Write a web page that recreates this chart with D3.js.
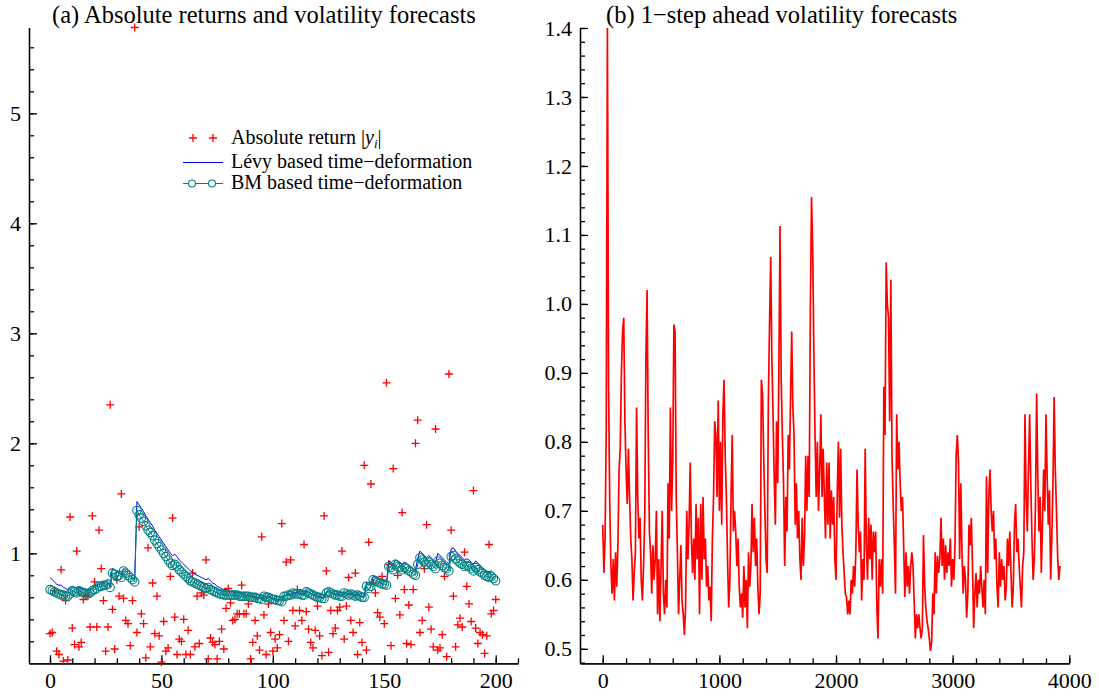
<!DOCTYPE html>
<html>
<head>
<meta charset="utf-8">
<title>Absolute returns and volatility forecasts</title>
<script src="https://cdn.jsdelivr.net/npm/d3@7"></script>
<style>
  * { margin: 0; padding: 0; }
  body { background: #fff; }
  svg text { font-family: "Liberation Serif", "Times New Roman", serif; fill: #000; }
  .domain, .tick line { stroke: #000; stroke-width: 1.3px; }
  .title { font-size: 24.5px; }
  .legend text { font-size: 20px; }
</style>
</head>
<body>
<svg id="chart" width="1099" height="696"></svg>
<script>
// ---- panel (a): absolute returns |y_i|, i = 0..200
var absReturns = [
  0.27, 0.28, 0.66, 0.11, 0.08, 0.85, 0.02, 0.57, 0.03, 1.33,
  0.32, 0.17, 1.02, 0.15, 0.19, 0.58, 0.62, 0.61, 0.33, 1.34,
  0.74, 0.33, 1.21, 0.86, 0.57, 0.11, 0.33, 2.35, 0.49, 0.13,
  0.76, 0.61, 1.54, 0.59, 0.39, 0.36, 0.16, 0.57, 5.78, 0.28,
  1.24, 0.45, 0.36, 0.05, 1.05, 0.15, 0.73, 0.27, 0.61, 0.25,
  0.01, 0.38, 0.11, 0.14, 0.79, 1.32, 0.42, 0.08, 0.22, 0.20,
  0.40, 0.08, 0.30, 0.08, 0.82, 0.15, 0.61, 0.18, 0.64, 0.62,
  0.94, 0.04, 0.23, 0.19, 0.17, 0.04, 0.20, 0.31, 0.13, 0.50,
  0.68, 0.55, 0.39, 0.40, 0.45, 0.45, 0.71, 0.45, 0.45, 0.54,
  0.04, 0.19, 0.39, 0.25, 0.12, 1.15, 0.44, 0.08, 0.54, 0.28,
  0.11, 0.22, 0.14, 0.26, 1.27, 0.39, 0.92, 0.20, 0.94, 0.48,
  0.34, 0.67, 0.48, 0.39, 1.08, 0.47, 0.31, 0.19, 0.14, 0.30,
  0.52, 0.25, 0.07, 1.34, 0.84, 0.10, 0.48, 0.27, 0.32, 0.48,
  0.51, 1.02, 0.22, 0.52, 0.78, 0.39, 0.28, 0.82, 0.08, 0.37,
  0.19, 1.80, 0.12, 1.10, 1.63, 0.73, 0.64, 0.46, 0.42, 0.79,
  0.36, 2.55, 0.90, 0.16, 1.77, 0.59, 0.80, 0.44, 1.37, 0.67,
  0.18, 0.53, 0.17, 0.67, 2.00, 2.21, 0.28, 0.39, 0.86, 1.26,
  0.51, 0.31, 0.15, 2.13, 0.12, 0.14, 0.26, 0.79, 0.06, 2.63,
  1.21, 0.61, 0.15, 0.35, 0.41, 0.33, 1.01, 0.70, 0.54, 0.38,
  1.57, 0.32, 0.18, 0.28, 0.26, 0.09, 0.25, 1.08, 0.45, 0.48,
  0.58
];

// Lévy based time-deformation forecast
var levyForecast = [
  0.78, 0.76, 0.74, 0.72, 0.71, 0.71, 0.69, 0.68, 0.67, 0.68,
  0.70, 0.69, 0.68, 0.69, 0.68, 0.67, 0.67, 0.66, 0.67, 0.68,
  0.69, 0.70, 0.72, 0.72, 0.73, 0.73, 0.73, 0.71, 0.86, 0.85,
  0.83, 0.83, 0.81, 0.86, 0.84, 0.82, 0.80, 0.78, 0.76, 1.47,
  1.44, 1.41, 1.38, 1.34, 1.31, 1.28, 1.25, 1.21, 1.18, 1.15,
  1.12, 1.09, 1.06, 1.03, 1.00, 0.98, 0.99, 0.97, 0.94, 0.92,
  0.90, 0.88, 0.86, 0.84, 0.83, 0.81, 0.80, 0.79, 0.78, 0.77,
  0.76, 0.77, 0.75, 0.73, 0.72, 0.70, 0.69, 0.68, 0.67, 0.67,
  0.66, 0.65, 0.65, 0.64, 0.64, 0.63, 0.63, 0.63, 0.62, 0.62,
  0.61, 0.61, 0.61, 0.60, 0.60, 0.59, 0.62, 0.61, 0.61, 0.60,
  0.59, 0.59, 0.58, 0.58, 0.57, 0.62, 0.62, 0.63, 0.63, 0.65,
  0.64, 0.64, 0.64, 0.63, 0.63, 0.66, 0.65, 0.64, 0.63, 0.62,
  0.61, 0.61, 0.60, 0.60, 0.65, 0.66, 0.65, 0.64, 0.63, 0.63,
  0.62, 0.62, 0.65, 0.64, 0.63, 0.64, 0.63, 0.62, 0.63, 0.62,
  0.61, 0.61, 0.73, 0.71, 0.72, 0.79, 0.78, 0.77, 0.76, 0.75,
  0.75, 0.74, 0.93, 0.92, 0.90, 0.94, 0.93, 0.92, 0.90, 0.92,
  0.91, 0.89, 0.88, 0.86, 0.85, 0.95, 1.02, 1.00, 0.98, 0.96,
  0.98, 0.96, 0.94, 0.92, 1.00, 0.98, 0.96, 0.94, 0.92, 0.90,
  1.04, 1.05, 1.02, 1.00, 0.98, 0.96, 0.94, 0.95, 0.94, 0.92,
  0.90, 0.93, 0.91, 0.89, 0.87, 0.85, 0.84, 0.83, 0.84, 0.82,
  0.80
];

// BM based time-deformation forecast
var bmForecast = [
  0.67, 0.66, 0.65, 0.64, 0.63, 0.62, 0.62, 0.61, 0.61, 0.63,
  0.66, 0.65, 0.64, 0.66, 0.65, 0.64, 0.64, 0.63, 0.64, 0.66,
  0.67, 0.68, 0.70, 0.70, 0.71, 0.71, 0.72, 0.69, 0.82, 0.81,
  0.79, 0.80, 0.78, 0.84, 0.82, 0.80, 0.78, 0.76, 0.74, 1.39,
  1.35, 1.32, 1.29, 1.25, 1.21, 1.19, 1.16, 1.12, 1.09, 1.06,
  1.03, 1.00, 0.97, 0.94, 0.91, 0.89, 0.90, 0.88, 0.85, 0.83,
  0.81, 0.79, 0.77, 0.75, 0.74, 0.73, 0.72, 0.71, 0.70, 0.69,
  0.68, 0.69, 0.67, 0.66, 0.65, 0.64, 0.63, 0.63, 0.62, 0.62,
  0.62, 0.62, 0.62, 0.62, 0.62, 0.61, 0.61, 0.61, 0.61, 0.61,
  0.60, 0.60, 0.60, 0.59, 0.59, 0.58, 0.61, 0.60, 0.60, 0.59,
  0.58, 0.58, 0.57, 0.57, 0.56, 0.61, 0.61, 0.62, 0.62, 0.64,
  0.63, 0.63, 0.63, 0.62, 0.62, 0.65, 0.64, 0.63, 0.62, 0.61,
  0.60, 0.60, 0.59, 0.59, 0.64, 0.65, 0.64, 0.63, 0.62, 0.62,
  0.61, 0.61, 0.64, 0.63, 0.62, 0.63, 0.62, 0.61, 0.62, 0.61,
  0.60, 0.60, 0.70, 0.68, 0.70, 0.76, 0.75, 0.74, 0.73, 0.72,
  0.72, 0.71, 0.88, 0.87, 0.85, 0.90, 0.88, 0.87, 0.85, 0.87,
  0.86, 0.84, 0.83, 0.81, 0.80, 0.90, 0.96, 0.94, 0.92, 0.90,
  0.92, 0.90, 0.88, 0.86, 0.93, 0.91, 0.89, 0.87, 0.86, 0.84,
  0.97, 0.98, 0.95, 0.93, 0.91, 0.90, 0.88, 0.89, 0.88, 0.86,
  0.84, 0.87, 0.85, 0.83, 0.82, 0.80, 0.79, 0.78, 0.79, 0.77,
  0.75
];

// ---- panel (b): 1-step ahead volatility forecasts, one value every 10 steps (t = 0..3920)
var volStep = 10;
var volForecast = [
  0.68, 0.61, 0.66, 0.82, 1.40, 0.88, 0.71, 0.62, 0.58, 0.63,
  0.57, 0.64, 0.59, 0.65, 0.76, 0.79, 0.90, 0.96, 0.98, 0.83,
  0.76, 0.71, 0.79, 0.72, 0.66, 0.63, 0.57, 0.61, 0.64, 0.85,
  0.72, 0.66, 0.69, 0.60, 0.57, 0.62, 0.69, 0.92, 1.02, 0.81,
  0.67, 0.64, 0.58, 0.65, 0.60, 0.63, 0.70, 0.55, 0.63, 0.54,
  0.62, 0.70, 0.58, 0.55, 0.60, 0.56, 0.74, 0.66, 0.85, 0.70,
  0.77, 0.97, 0.96, 0.72, 0.64, 0.55, 0.60, 0.65, 0.57, 0.55,
  0.52, 0.56, 0.70, 0.63, 0.68, 0.77, 0.66, 0.61, 0.66, 0.60,
  0.71, 0.63, 0.69, 0.55, 0.71, 0.60, 0.72, 0.63, 0.66, 0.59,
  0.62, 0.57, 0.59, 0.54, 0.66, 0.72, 0.83, 0.81, 0.72, 0.86,
  0.70, 0.80, 0.68, 0.84, 0.89, 0.78, 0.72, 0.63, 0.56, 0.60,
  0.72, 0.81, 0.67, 0.70, 0.67, 0.62, 0.66, 0.59, 0.56, 0.58,
  0.545, 0.62, 0.56, 0.60, 0.53, 0.64, 0.59, 0.62, 0.71, 0.64,
  0.69, 0.62, 0.66, 0.59, 0.55, 0.58, 0.89, 0.87, 0.78, 0.70,
  0.63, 0.61, 0.86, 0.97, 1.068, 0.92, 0.84, 0.75, 0.68, 0.83,
  0.74, 0.90, 1.113, 0.89, 0.81, 0.74, 0.62, 0.72, 0.67, 0.81,
  0.76, 0.86, 0.96, 0.85, 0.81, 0.68, 0.74, 0.66, 0.70, 0.63,
  0.60, 0.69, 0.62, 0.66, 0.78, 0.70, 0.78, 0.72, 0.99, 1.155,
  1.08, 0.93, 0.81, 0.72, 0.80, 0.70, 0.76, 0.84, 0.72, 0.79,
  0.72, 0.66, 0.77, 0.68, 0.77, 0.66, 0.73, 0.68, 0.72, 0.63,
  0.60, 0.72, 0.80, 0.69, 0.79, 0.68, 0.64, 0.61, 0.58, 0.575,
  0.55, 0.57, 0.55, 0.60, 0.58, 0.62, 0.59, 0.64, 0.76, 0.68,
  0.64, 0.67, 0.57, 0.63, 0.60, 0.79, 0.65, 0.60, 0.69, 0.63,
  0.68, 0.60, 0.67, 0.64, 0.67, 0.56, 0.515, 0.63, 0.59, 0.63,
  0.58, 0.88, 0.81, 1.06, 1.00, 0.98, 0.83, 1.035, 0.78, 0.71,
  0.65, 0.58, 0.84, 0.76, 0.80, 0.74, 0.70, 0.72, 0.65, 0.575,
  0.64, 0.59, 0.62, 0.58, 0.62, 0.64, 0.62, 0.57, 0.515, 0.55,
  0.53, 0.55, 0.53, 0.515, 0.53, 0.665, 0.59, 0.56, 0.54, 0.53,
  0.515, 0.497, 0.51, 0.58, 0.55, 0.64, 0.58, 0.635, 0.61, 0.63,
  0.69, 0.62, 0.66, 0.60, 0.65, 0.61, 0.64, 0.62, 0.66, 0.59,
  0.63, 0.60, 0.65, 0.78, 0.81, 0.77, 0.63, 0.74, 0.64, 0.58,
  0.62, 0.60, 0.545, 0.58, 0.68, 0.65, 0.69, 0.62, 0.53, 0.58,
  0.61, 0.56, 0.60, 0.58, 0.62, 0.59, 0.56, 0.60, 0.55, 0.75,
  0.61, 0.72, 0.76, 0.70, 0.67, 0.70, 0.63, 0.66, 0.59, 0.56,
  0.64, 0.59, 0.63, 0.60, 0.62, 0.57, 0.59, 0.66, 0.62, 0.67,
  0.61, 0.56, 0.59, 0.68, 0.71, 0.64, 0.66, 0.62, 0.59, 0.56,
  0.62, 0.64, 0.84, 0.72, 0.67, 0.76, 0.84, 0.74, 0.66, 0.60,
  0.63, 0.71, 0.87, 0.75, 0.67, 0.72, 0.61, 0.68, 0.76, 0.70,
  0.84, 0.75, 0.68, 0.73, 0.60, 0.66, 0.74, 0.865, 0.76, 0.70,
  0.635, 0.60, 0.62
];

// tick labels
var aXTicks = [0, 50, 100, 150, 200];
var aYTicks = [1, 2, 3, 4, 5];
var bXTicks = [0, 1000, 2000, 3000, 4000];
var bYTicks = [0.5, 0.6, 0.7, 0.8, 0.9, 1.0, 1.1, 1.2, 1.3, 1.4];

var legendLabels = ["Absolute return ", "L\u00e9vy based time\u2212deformation", "BM based time\u2212deformation"];

var RED = "#ff0000", BLUE = "#0000ff", TEAL = "#008080";
var SERIF = "'Liberation Serif', 'Times New Roman', serif";

var svg = d3.select("#chart");

// scales
var xA = d3.scaleLinear().domain([-9.42, 210]).range([29, 518]);
var yA = d3.scaleLinear().domain([0, 5.78]).range([663.3, 27.5]);
var xB = d3.scaleLinear().domain([-195, 4000]).range([580, 1069.3]);
var yB = d3.scaleLinear().domain([0.479, 1.4]).range([663.3, 28]);

// inward ticks, minor ones shorter
function drawAxes(x, y, xMajor, xMinor, yMajor, yMinor, yFmt) {
    var bottom = y.range()[0], left = x.range()[0];

    svg.append("g")
        .attr("transform", "translate(0," + bottom + ")")
        .call(d3.axisBottom(x).tickValues(xMinor).tickSize(-5).tickSizeOuter(0).tickFormat(""));
    svg.append("g")
        .attr("transform", "translate(0," + bottom + ")")
        .call(d3.axisBottom(x).tickValues(xMajor).tickSize(-8).tickSizeOuter(0).tickPadding(9).tickFormat(d3.format("d")))
        .attr("font-family", SERIF).attr("font-size", 22);

    svg.append("g")
        .attr("transform", "translate(" + left + ",0)")
        .call(d3.axisLeft(y).tickValues(yMinor).tickSize(-5).tickSizeOuter(0).tickFormat(""));
    svg.append("g")
        .attr("transform", "translate(" + left + ",0)")
        .call(d3.axisLeft(y).tickValues(yMajor).tickSize(-8).tickSizeOuter(0).tickPadding(8).tickFormat(yFmt))
        .attr("font-family", SERIF).attr("font-size", 22);
}

drawAxes(xA, yA, aXTicks, d3.range(0, 211, 10), aYTicks, d3.range(0.2, 5.7, 0.2), d3.format("d"));
drawAxes(xB, yB, bXTicks, d3.range(0, 4001, 200), bYTicks, d3.range(0.48, 1.401, 0.02), d3.format(".1f"));

// titles
svg.append("text").attr("class", "title")
    .attr("x", 52).attr("y", 23)
    .text("(a) Absolute returns and volatility forecasts");
svg.append("text").attr("class", "title")
    .attr("x", 606).attr("y", 23)
    .text("(b) 1\u2212step ahead volatility forecasts");

// panel (a) marks
var plusPath = "M-4,0H4M0,-4V4";

svg.append("g").selectAll("path")
    .data(absReturns)
    .enter().append("path")
    .attr("d", plusPath)
    .attr("transform", function(d, i) { return "translate(" + xA(i) + "," + yA(d) + ")"; })
    .attr("fill", "none")
    .attr("stroke", RED)
    .attr("stroke-width", 1.3);

var lineA = d3.line()
    .x(function(d, i) { return xA(i); })
    .y(function(d) { return yA(d); });

svg.append("path")
    .datum(levyForecast)
    .attr("d", lineA)
    .attr("fill", "none")
    .attr("stroke", BLUE)
    .attr("stroke-width", 1);

svg.append("path")
    .datum(bmForecast)
    .attr("d", lineA)
    .attr("fill", "none")
    .attr("stroke", TEAL)
    .attr("stroke-width", 1);

svg.append("g").selectAll("circle")
    .data(bmForecast)
    .enter().append("circle")
    .attr("cx", function(d, i) { return xA(i); })
    .attr("cy", function(d) { return yA(d); })
    .attr("r", 4.2)
    .attr("fill", "none")
    .attr("stroke", TEAL)
    .attr("stroke-width", 1.1);

// legend
var legend = svg.append("g").attr("class", "legend");

legend.selectAll("path.mk")
    .data([193, 213])
    .enter().append("path")
    .attr("class", "mk")
    .attr("d", plusPath)
    .attr("transform", function(d) { return "translate(" + d + ",138)"; })
    .attr("fill", "none")
    .attr("stroke", RED)
    .attr("stroke-width", 1.3);

var t0 = legend.append("text").attr("x", 231).attr("y", 144);
t0.append("tspan").text(legendLabels[0] + "|");
t0.append("tspan").attr("font-style", "italic").text("y");
t0.append("tspan").attr("font-style", "italic").attr("font-size", "13px").attr("dy", 4).text("i");
t0.append("tspan").attr("dy", -4).text("|");

legend.append("line")
    .attr("x1", 183).attr("x2", 223).attr("y1", 162.5).attr("y2", 162.5)
    .attr("stroke", BLUE).attr("stroke-width", 1);
legend.append("text").attr("x", 231).attr("y", 168).text(legendLabels[1]);

legend.append("line")
    .attr("x1", 183).attr("x2", 223).attr("y1", 183.5).attr("y2", 183.5)
    .attr("stroke", TEAL).attr("stroke-width", 1);
legend.selectAll("circle")
    .data([192, 212])
    .enter().append("circle")
    .attr("cx", function(d) { return d; })
    .attr("cy", 183.5)
    .attr("r", 3.5)
    .attr("fill", "#fff")
    .attr("stroke", TEAL)
    .attr("stroke-width", 1.1);
legend.append("text").attr("x", 231).attr("y", 189).text(legendLabels[2]);

// panel (b) line
var lineB = d3.line()
    .x(function(d, i) { return xB(i * volStep); })
    .y(function(d) { return yB(d); });

svg.append("path")
    .datum(volForecast)
    .attr("d", lineB)
    .attr("fill", "none")
    .attr("stroke", RED)
    .attr("stroke-width", 1.7)
    .attr("stroke-linejoin", "bevel");
</script>
</body>
</html>
